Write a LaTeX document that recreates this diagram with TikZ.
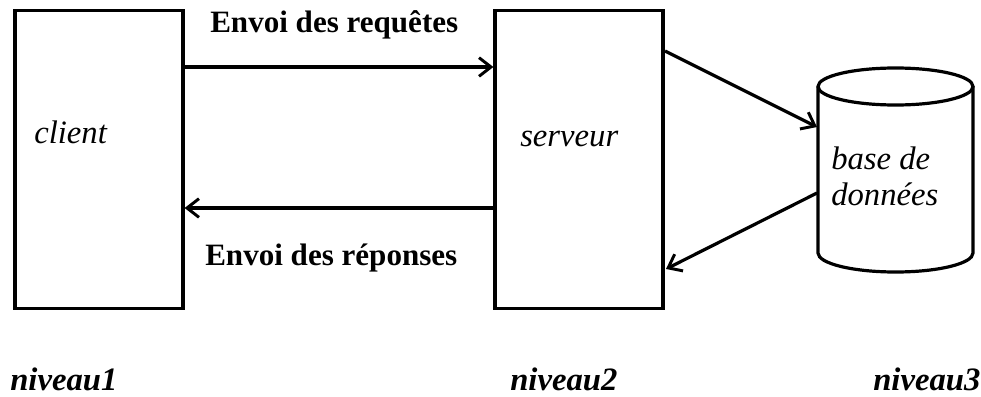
\documentclass[tikz,border=0pt]{standalone}
\usepackage{fontspec}
\setmainfont{Liberation Serif}
\usetikzlibrary{arrows.meta}
\begin{document}
\begin{tikzpicture}[x=0.75pt,y=-0.75pt,
  tier/.style={draw,line width=2.4pt,minimum width=126pt,minimum height=224pt,inner sep=0pt},
  flow/.style={line width=2.4pt,-{Straight Barb[length=9pt,width=14pt,line width=2.2pt]}},
  msg/.style={anchor=base west,inner sep=0pt,font=\fontsize{23.3}{28}\selectfont\bfseries},
  tiertext/.style={anchor=base west,inner sep=0pt,font=\fontsize{24.5}{28}\selectfont\itshape},
  leveltext/.style={anchor=base west,inner sep=0pt,font=\fontsize{24.5}{28}\selectfont\bfseries\itshape}]
\useasboundingbox (0,0) rectangle (981,396);

% client and server tiers
\node[tier] (cl) at (99,159.5) {};
\node[tier] (srv) at (579,159.5) {};

% database cylinder
\node[inner sep=0pt,minimum width=116pt,minimum height=125pt] (db) at (895.5,170) {};
\draw[line width=2.4pt] (895.5,86.5) ellipse[x radius=77.5,y radius=18.5];
\draw[line width=2.4pt] (818,86.5) -- (818,253)
  arc[start angle=180,end angle=0,x radius=77.5,y radius=19] -- (973,86.5);

% connector end points
\coordinate (req) at (0,67);
\coordinate (rep) at (0,208);
\coordinate (s1) at (665,51);
\coordinate (d1) at (817,127);
\coordinate (d2) at (817,193);
\coordinate (s2) at (666,269);

\draw[flow] (cl.east |- req) -- (srv.west |- req);
\draw[flow] (srv.west |- rep) -- (cl.east |- rep);
\draw[flow] (s1) -- (d1);
\draw[flow] (d2) -- (s2);

% labels
\node[msg] (t1) at (210,32) {Envoi des requêtes};
\node[msg] (t2) at (205,265) {Envoi des réponses};
\node[tiertext] (n1) at (34,143) {client};
\node[tiertext] (n2) at (520,146) {serveur};
\node[tiertext,align=left,anchor=north west] (n3) at (831,147) {base de\\[-1pt]données};
\node[leveltext] (l1) at (10,390) {niveau1};
\node[leveltext] (l2) at (510,390) {niveau2};
\node[leveltext] (l3) at (873,390) {niveau3};
\end{tikzpicture}
\end{document}
